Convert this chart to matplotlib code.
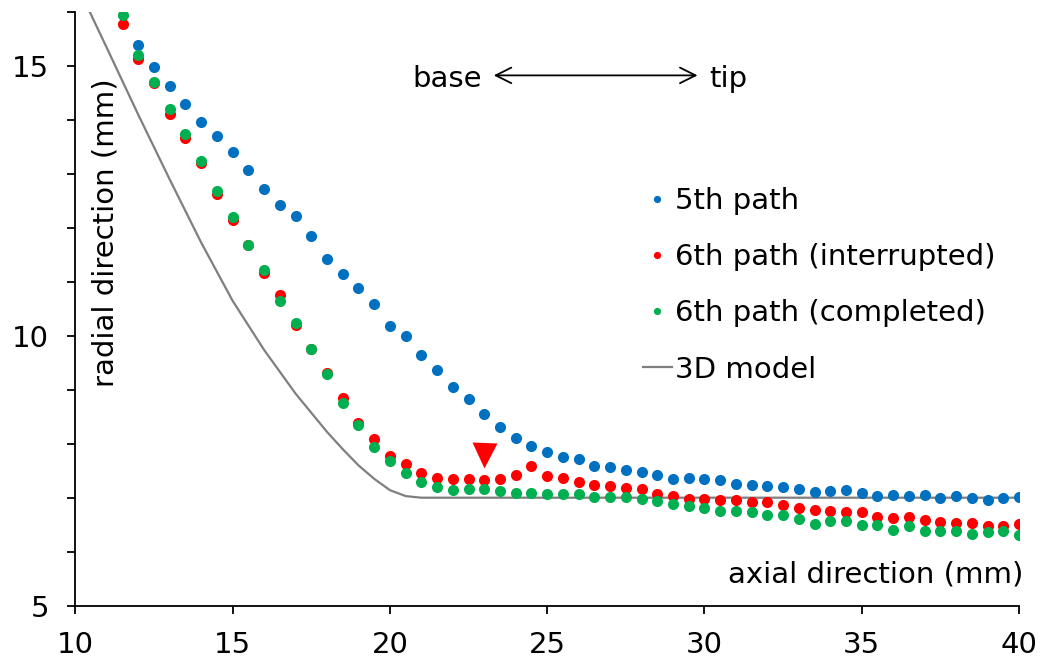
import matplotlib
matplotlib.use("Agg")
import matplotlib.pyplot as plt
from matplotlib.ticker import MultipleLocator, FixedLocator

plt.rcParams['font.family'] = ['DejaVu Sans']

# axial positions (mm)
x_path5 = [12 + 0.5 * i for i in range(57)]
x_path6 = [11.5 + 0.5 * i for i in range(58)]

# radial positions (mm)
r_path5 = [15.39, 14.98, 14.63, 14.30, 13.97, 13.70, 13.41, 13.07, 12.73, 12.42,
           12.22, 11.85, 11.43, 11.15, 10.88, 10.59, 10.19, 9.99, 9.65, 9.37,
           9.06, 8.83, 8.56, 8.31, 8.11, 7.96, 7.85, 7.75, 7.71, 7.59,
           7.57, 7.51, 7.47, 7.43, 7.34, 7.37, 7.35, 7.32, 7.26, 7.23,
           7.21, 7.20, 7.17, 7.11, 7.13, 7.15, 7.08, 7.04, 7.05, 7.04,
           7.05, 6.99, 7.03, 7.00, 6.96, 7.00, 7.01]

r_interrupted = [15.78, 15.14, 14.68, 14.12, 13.66, 13.21, 12.63, 12.15, 11.69, 11.17,
                 10.76, 10.21, 9.76, 9.32, 8.85, 8.39, 8.08, 7.77, 7.62, 7.46,
                 7.37, 7.34, 7.34, 7.32, 7.35, 7.42, 7.58, 7.40, 7.37, 7.30,
                 7.24, 7.22, 7.18, 7.16, 7.07, 7.04, 6.98, 6.98, 6.96, 6.95,
                 6.92, 6.92, 6.86, 6.81, 6.78, 6.76, 6.73, 6.73, 6.64, 6.62,
                 6.64, 6.58, 6.55, 6.54, 6.54, 6.48, 6.47, 6.51]

r_completed = [15.95, 15.20, 14.71, 14.21, 13.75, 13.25, 12.69, 12.20, 11.69, 11.22,
               10.65, 10.23, 9.75, 9.29, 8.75, 8.35, 7.94, 7.68, 7.45, 7.29,
               7.19, 7.14, 7.16, 7.16, 7.13, 7.09, 7.09, 7.06, 7.07, 7.06,
               7.01, 7.01, 7.01, 6.98, 6.93, 6.88, 6.84, 6.81, 6.76, 6.76,
               6.73, 6.67, 6.67, 6.61, 6.52, 6.56, 6.56, 6.49, 6.49, 6.41,
               6.47, 6.39, 6.38, 6.38, 6.33, 6.36, 6.39, 6.30]

# 3D model profile
x_model = [10.3, 11.0, 12.0, 13.0, 14.0, 15.0, 16.0, 17.0, 18.0, 18.5,
           19.0, 19.5, 20.0, 20.5, 21.0, 40.0]
r_model = [16.2, 15.34, 14.10, 12.90, 11.73, 10.65, 9.74, 8.93, 8.22, 7.90,
           7.60, 7.35, 7.14, 7.03, 7.00, 7.00]

# interruption point of the 6th path
x_mark = [23.0]
r_mark = [7.8]

labels = ['5th path', '6th path (interrupted)', '6th path (completed)', '3D model']

BLUE = '#0070C0'
RED = '#FF0000'
GREEN = '#00B050'
GRAY = '#7F7F7F'
FS = 21

fig = plt.figure(figsize=(10.41, 6.64), dpi=100)
ax = fig.add_axes([0.0724, 0.088, 0.9065, 0.8935])

h_model, = ax.plot(x_model, r_model, color=GRAY, lw=1.6, zorder=1)
h5, = ax.plot(x_path5, r_path5, 'o', color=BLUE, ms=8, mec='none', zorder=2)
h6i, = ax.plot(x_path6, r_interrupted, 'o', color=RED, ms=8, mec='none', zorder=3)
h6c, = ax.plot(x_path6, r_completed, 'o', color=GREEN, ms=8, mec='none', zorder=4)
ax.plot(x_mark, r_mark, 'v', color=RED, ms=18, mec='none', zorder=5)

ax.set_xlim(10, 40)
ax.set_ylim(5, 16)
ax.xaxis.set_major_locator(MultipleLocator(5))
ax.yaxis.set_major_locator(FixedLocator([5, 10, 15]))
ax.yaxis.set_minor_locator(MultipleLocator(1))

for s in ['top', 'right']:
    ax.spines[s].set_visible(False)
for s in ['left', 'bottom']:
    ax.spines[s].set_linewidth(1.3)

ax.tick_params(axis='both', which='both', direction='out', length=6, width=1.3,
               labelsize=FS)
ax.tick_params(axis='y', which='major', pad=13)
ax.tick_params(axis='x', which='major', pad=12)

ax.text(10.95, 11.92, 'radial direction (mm)', rotation=90, ha='center',
        va='center', fontsize=FS)
ax.text(40.13, 5.57, 'axial direction (mm)', ha='right', va='center',
        fontsize=FS, clip_on=False)

ax.text(22.93, 14.62, 'base', ha='right', va='baseline', fontsize=FS)
ax.text(30.15, 14.62, 'tip', ha='left', va='baseline', fontsize=FS)
ax.annotate('', xy=(29.78, 14.83), xytext=(23.3, 14.83),
            arrowprops=dict(arrowstyle='<->', lw=1.3, color='black',
                            mutation_scale=28, shrinkA=0, shrinkB=0))

ax.legend([h5, h6i, h6c, h_model], labels, loc='upper left',
          bbox_to_anchor=(0.601, 0.706), frameon=False, fontsize=FS,
          handlelength=1.0, handletextpad=0.1, labelspacing=0.97,
          markerscale=0.65, borderpad=0, borderaxespad=0)

fig.savefig('out.png', dpi=100)
